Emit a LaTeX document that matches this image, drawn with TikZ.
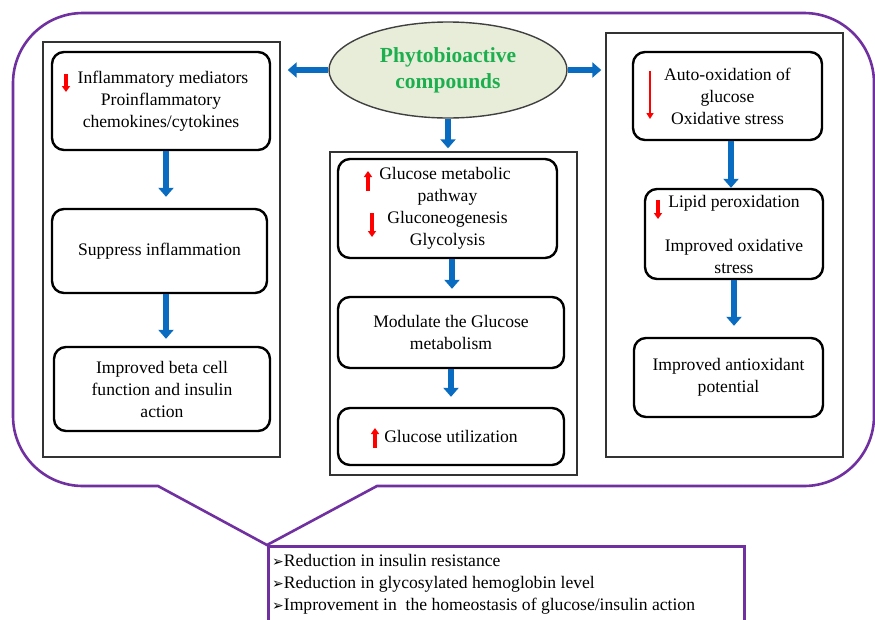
\documentclass[tikz,border=0pt]{standalone}
\usepackage{fontspec}
\setmainfont{Liberation Serif}
\newfontfamily\symfont{DejaVu Sans}
\usetikzlibrary{arrows.meta,shapes.geometric}
\definecolor{calloutpurple}{HTML}{7030A0}
\definecolor{arrowblue}{HTML}{0A6CC0}
\definecolor{phytogreen}{HTML}{1DAF4E}
\definecolor{ellfill}{HTML}{E8EDDA}
\newcommand{\bul}{{\symfont\fontsize{14}{14}\selectfont ➢}}
\tikzset{
  colbox/.style={draw=black!80, line width=1.4pt, rectangle, inner sep=0pt},
  rbox/.style={draw=black, line width=2.4pt, rounded corners=12pt, inner sep=0pt, align=center,
    font=\fontsize{17.6}{22}\selectfont},
  bluearrow/.style={draw=arrowblue, line width=5.5pt, -{Triangle[width=15pt,length=9pt]}},
  redarrow/.style={draw=red, line width=3.4pt, -{Triangle[width=8pt,length=6pt]}},
  thinred/.style={draw=red, line width=2.6pt, -{Triangle[width=7pt,length=6pt]}}
}
\begin{document}
\begin{tikzpicture}[x=1pt,y=-1pt]
\useasboundingbox (0,0) rectangle (875,619);
\fill[white] (0,0) rectangle (875,619);
% callout outline
\draw[calloutpurple, line width=2.6pt, line join=miter]
  (13,83) arc[start angle=180,end angle=270,radius=70] -- (804,13)
  arc[start angle=270,end angle=360,radius=70] -- (874,416)
  arc[start angle=0,end angle=90,radius=70] -- (377,486) -- (267,545) -- (158,486) -- (83,486)
  arc[start angle=90,end angle=180,radius=70] -- cycle;
% bottom box
\node[draw=calloutpurple, line width=2.6pt, rectangle, minimum width=476pt, minimum height=80pt, anchor=north west, inner sep=0pt] (B) at (267,545) {};
\node[anchor=north west, align=left, inner sep=0pt, font=\fontsize{17.6}{22}\selectfont] (Btext) at (272,554)
  {\bul Reduction in insulin resistance\\
   \bul Reduction in glycosylated hemoglobin level\\
   \bul Improvement in\ \ the homeostasis of glucose/insulin action};
% column boxes
\node[colbox, minimum width=237pt, minimum height=415pt] (LC) at (161.5,249.5) {};
\node[colbox, minimum width=247pt, minimum height=323pt] (MC) at (453.5,313.5) {};
\node[colbox, minimum width=237pt, minimum height=424pt] (RC) at (724.5,245) {};
% ellipse
\node[draw=black!75, line width=1.4pt, fill=ellfill, ellipse, minimum width=238pt, minimum height=96pt, inner sep=0pt,
  align=center, text=phytogreen, font=\bfseries\fontsize{21.5}{26}\selectfont] (E) at (448,70) {Phytobioactive\\compounds};
% left column
\node[rbox, minimum width=218pt, minimum height=98pt] (L1) at (161,101) {\hspace*{4pt}Inflammatory mediators\\Proinflammatory\\chemokines/cytokines};
\node[rbox, minimum width=215pt, minimum height=84pt] (L2) at (159.5,251) {Suppress inflammation};
\node[rbox, minimum width=216pt, minimum height=84pt] (L3) at (162,389) {Improved beta cell\\function and insulin\\action};
% middle column
\node[rbox, minimum width=219pt, minimum height=99pt] (M1) at (447.5,208.5) {\hspace*{-5pt}Glucose metabolic\\pathway\\Gluconeogenesis\\Glycolysis};
\node[rbox, minimum width=226pt, minimum height=71pt] (M2) at (451,332.5) {Modulate the Glucose\\metabolism};
\node[rbox, minimum width=226pt, minimum height=57pt] (M3) at (451,436.5) {Glucose utilization};
% right column
\node[rbox, minimum width=189pt, minimum height=88pt] (R1) at (727.5,96) {Auto-oxidation of\\glucose\\Oxidative stress};
\node[rbox, minimum width=178pt, minimum height=90pt] (R2) at (734,234) {Lipid peroxidation\\[22pt]Improved oxidative\\stress};
\node[rbox, minimum width=189pt, minimum height=79pt] (R3) at (728.5,377.5) {Improved antioxidant\\potential};
% blue arrows
\draw[bluearrow, shorten >=7pt] (E.west) -- (E.west -| LC.east);
\draw[bluearrow, shorten >=4pt] (E.east) -- (E.east -| RC.west);
\draw[bluearrow, shorten >=3pt] (E.south) -- (E.south |- MC.north);
\draw[bluearrow, shorten >=11pt] ([xshift=5pt]L1.south) -- ([xshift=5pt]L1.south |- L2.north);
\draw[bluearrow, shorten >=7pt] ([xshift=6.5pt]L2.south) -- ([xshift=6.5pt]L2.south |- L3.north);
\draw[bluearrow, shorten >=7pt] ([xshift=4.5pt]M1.south) -- ([xshift=4.5pt]M1.south |- M2.north);
\draw[bluearrow, shorten >=10pt] (M2.south) -- (M2.south |- M3.north);
\draw[bluearrow] ([xshift=3.5pt]R1.south) -- ([xshift=3.5pt]R1.south |- R2.north);
\draw[bluearrow, shorten >=11pt] (R2.south) -- (R2.south |- R3.north);
% red indicator arrows
\draw[redarrow] (66,74) -- (66,92);
\draw[thinred] (650,71) -- (650,119);
\draw[redarrow] (368,191) -- (368,171);
\draw[redarrow] (372,213) -- (372,237);
\draw[redarrow] (658,200) -- (658,219);
\draw[redarrow] (375,448) -- (375,428);
\end{tikzpicture}
\end{document}
